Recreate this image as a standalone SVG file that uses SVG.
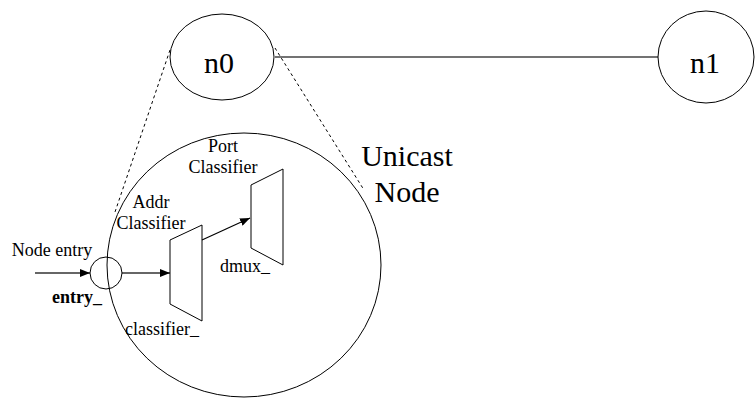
<svg xmlns="http://www.w3.org/2000/svg" width="755" height="401" viewBox="0 0 755 401">
<style>
.s{fill:none;stroke:#000;stroke-width:1}
text{font-family:"Liberation Serif","Tinos","Times New Roman","Nimbus Roman","DejaVu Serif",serif;fill:#000}
.sm{font-size:18px}
.bg{font-size:30px}
</style>
<defs>
<marker id="ah" markerWidth="10" markerHeight="8" refX="10" refY="4" orient="auto" markerUnits="userSpaceOnUse">
<path d="M0,0 L10,4 L0,8 Z" fill="#000"/>
</marker>
</defs>
<rect width="755" height="401" fill="#fff"/>
<g id="connectors">
<line x1="275" y1="57" x2="658" y2="57" stroke="#444" stroke-width="1.5"/>
<line x1="170" y1="50" x2="115" y2="212" class="s" stroke-dasharray="3,3"/>
<line x1="275" y1="48" x2="364" y2="190" class="s" stroke-dasharray="3,3"/>
<line x1="35" y1="273" x2="90" y2="273" stroke="#333" stroke-width="1.5" marker-end="url(#ah)"/>
<line x1="122" y1="273" x2="170" y2="273" stroke="#333" stroke-width="1.5" marker-end="url(#ah)"/>
<line x1="202" y1="240" x2="250" y2="218" stroke="#000" stroke-width="1.2" marker-end="url(#ah)"/>
</g>
<g id="n0">
<ellipse cx="222" cy="57" rx="52" ry="43" class="s"/>
<text x="219" y="73" class="bg" text-anchor="middle">n0</text>
</g>
<g id="n1">
<ellipse cx="706" cy="57" rx="48" ry="46" class="s"/>
<text x="705" y="73" class="bg" text-anchor="middle">n1</text>
</g>
<g id="unicast-node">
<ellipse cx="244" cy="265" rx="137" ry="132" class="s"/>
<text x="407" y="166" class="bg" text-anchor="middle">Unicast</text>
<text x="407" y="202" class="bg" text-anchor="middle">Node</text>
</g>
<g id="entry">
<circle cx="106" cy="273" r="16" class="s" fill="#fff"/>
<text x="52" y="256" class="sm" text-anchor="middle">Node entry</text>
<text x="77" y="303" class="sm" text-anchor="middle" font-weight="bold">entry_</text>
</g>
<g id="classifier">
<polygon points="170,240 202,225 202,321 170,304" class="s"/>
<text x="151" y="208" class="sm" text-anchor="middle">Addr</text>
<text x="151" y="229" class="sm" text-anchor="middle">Classifier</text>
<text x="162" y="335" class="sm" text-anchor="middle">classifier_</text>
</g>
<g id="dmux">
<polygon points="251,185 283,169 283,265 251,248" class="s"/>
<text x="223" y="152" class="sm" text-anchor="middle">Port</text>
<text x="223" y="173" class="sm" text-anchor="middle">Classifier</text>
<text x="245" y="272" class="sm" text-anchor="middle">dmux_</text>
</g>
</svg>
